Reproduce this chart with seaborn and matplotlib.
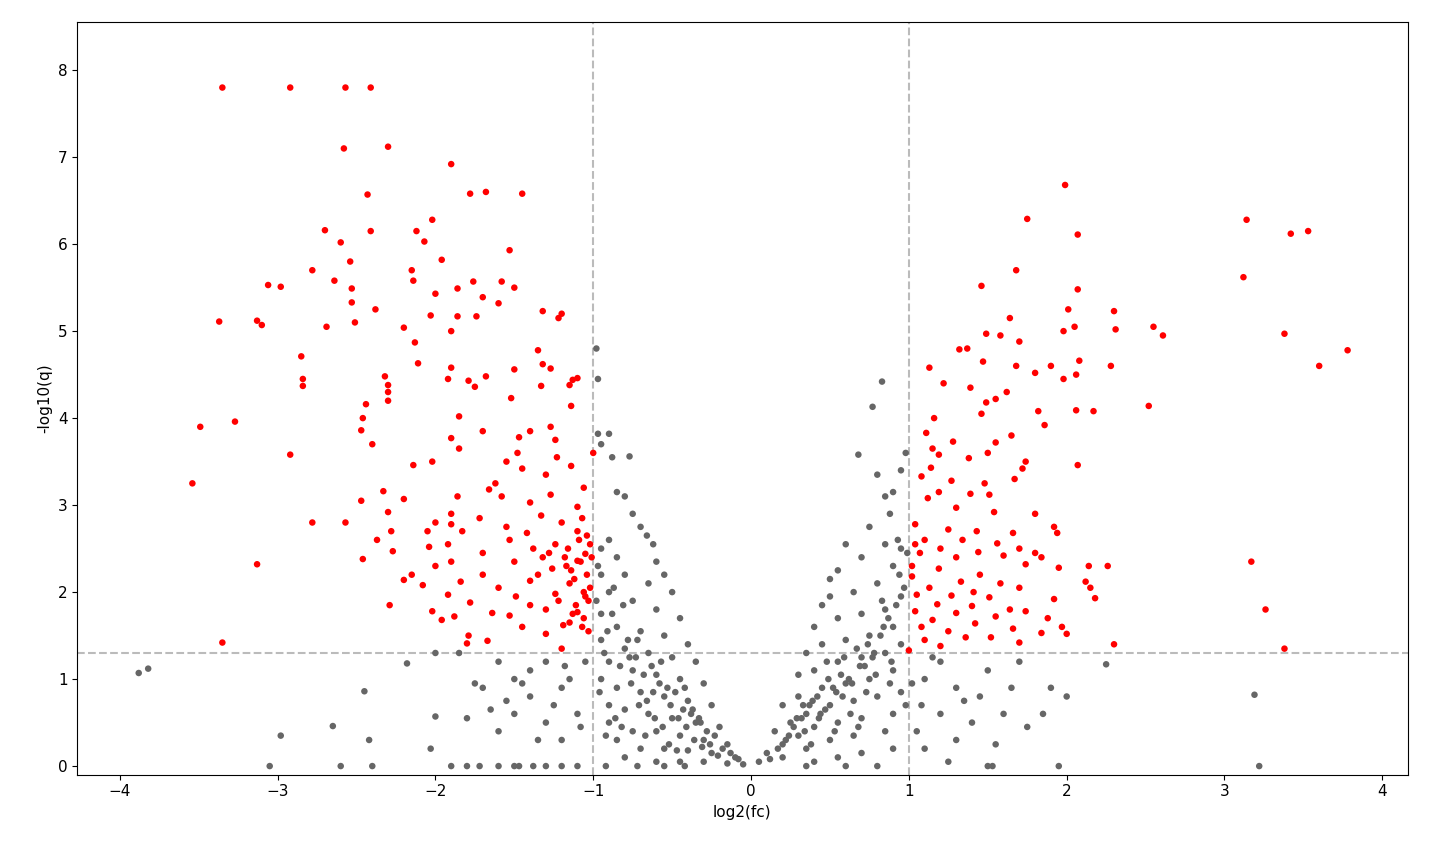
import pandas as pd
import matplotlib
matplotlib.use("Agg")
import matplotlib.pyplot as plt
import seaborn as sns

# significant points (red)
red_x = [-3.35,-2.92,-2.57,-2.41,-2.58,-2.3,-1.9,-1.68,-1.78,-1.45,-2.43,-2.02,-2.7,-2.41,-2.12,-2.07,-2.6,-1.53,-1.96,-2.54,-2.78,-2.15,-2.14,-2.64,-1.76,-1.58,-3.06,-2.98,-2.53,-1.86,-1.5,-2.0,-1.7,-2.53,-1.6,-2.38,-1.32,-1.2,-1.86,-3.37,-3.13,-2.51,-1.74,-1.9,-2.03,-3.1,-2.69,-2.2,-1.22,-2.13,-1.35,-2.85,-1.32,-2.11,-1.9,-1.5,-1.27,-2.32,-1.68,-1.1,-1.79,-1.13,-2.84,-2.84,-2.3,-1.33,-1.75,-2.3,-1.92,-1.15,-2.3,-2.44,-1.52,-1.14,-2.46,-1.85,-3.27,-2.47,-3.49,-1.7,-1.4,-1.27,-1.47,-1.9,-2.4,-1.24,-1.85,-1.0,-2.92,-1.48,-1.23,-1.55,-2.02,-2.14,-1.14,-1.45,-1.3,-1.62,-3.54,-1.66,-2.33,-1.06,-1.27,-1.86,-1.58,-2.2,-2.47,-1.4,-1.1,-1.9,-2.3,-1.72,-1.33,-2.0,-1.9,-2.78,-2.57,-1.55,-1.2,-2.05,-1.42,-2.28,-1.83,-1.1,-2.37,-1.53,-1.92,-1.24,-2.04,-1.38,-1.16,-2.27,-1.7,-1.05,-1.32,-2.46,-1.9,-2.0,-1.5,-1.1,-3.13,-1.26,-2.15,-1.7,-1.04,-2.2,-1.84,-1.4,-1.15,-2.08,-1.6,-1.06,-1.92,-1.49,-1.24,-1.03,-1.78,-1.4,-2.29,-1.3,-2.02,-1.64,-1.1,-1.88,-1.53,-1.96,-1.15,-1.45,-1.07,-1.79,-1.3,-1.67,-3.35,-1.8,-1.2,
         -1.02,-1.08,-1.12,-1.18,-1.05,-1.09,-1.14,-1.02,-1.06,-1.11,-1.17,-1.22,-1.28,-1.35,-1.03,-1.07,-1.13,-1.01,-1.04,-1.19,
         1.99,1.75,2.07,1.68,1.46,2.07,2.01,2.3,1.64,1.98,2.31,2.05,1.49,1.58,1.7,1.37,1.32,1.47,2.08,1.9,1.13,1.68,1.8,1.98,2.06,1.22,1.39,1.62,1.55,1.49,1.16,1.46,1.82,2.06,2.17,1.86,1.11,1.28,1.55,1.65,1.15,1.19,1.5,1.74,1.38,2.07,1.14,1.08,1.72,1.27,1.67,1.48,1.19,1.39,1.12,1.51,1.8,1.3,1.54,1.04,1.25,1.43,1.66,1.92,1.1,1.34,1.56,1.94,1.04,1.2,1.44,1.7,1.8,1.07,1.3,1.6,1.84,1.02,1.19,1.45,1.74,1.95,2.14,1.02,1.33,1.58,2.12,1.13,1.41,1.7,2.15,1.05,1.27,1.51,1.92,2.18,1.18,1.4,1.64,1.74,1.04,1.3,1.55,1.88,1.15,1.42,1.97,1.08,1.25,1.66,1.84,2.0,1.1,1.36,1.52,1.7,1.2,2.3,1.0,
         3.14,3.42,3.53,3.12,2.61,2.55,3.38,3.78,3.6,2.28,2.52,3.17,3.26,3.38,2.26]
red_y = [7.8,7.8,7.8,7.8,7.1,7.12,6.92,6.6,6.58,6.58,6.57,6.28,6.16,6.15,6.15,6.03,6.02,5.93,5.82,5.8,5.7,5.7,5.58,5.58,5.57,5.57,5.53,5.51,5.49,5.49,5.5,5.43,5.39,5.33,5.32,5.25,5.23,5.2,5.17,5.11,5.12,5.1,5.17,5.0,5.18,5.07,5.05,5.04,5.15,4.87,4.78,4.71,4.62,4.63,4.58,4.56,4.57,4.48,4.48,4.46,4.43,4.44,4.45,4.37,4.38,4.37,4.36,4.3,4.45,4.38,4.2,4.16,4.23,4.14,4.0,4.02,3.96,3.86,3.9,3.85,3.85,3.9,3.78,3.77,3.7,3.75,3.65,3.6,3.58,3.6,3.55,3.5,3.5,3.46,3.45,3.42,3.35,3.25,3.25,3.18,3.16,3.2,3.12,3.1,3.1,3.07,3.05,3.03,2.98,2.9,2.92,2.85,2.88,2.8,2.78,2.8,2.8,2.75,2.8,2.7,2.68,2.7,2.7,2.7,2.6,2.6,2.55,2.55,2.52,2.5,2.5,2.47,2.45,2.44,2.4,2.38,2.35,2.3,2.35,2.36,2.32,2.27,2.2,2.2,2.2,2.14,2.12,2.13,2.1,2.08,2.05,2.0,1.97,1.95,1.98,1.9,1.88,1.85,1.85,1.8,1.78,1.76,1.77,1.72,1.73,1.68,1.65,1.6,1.6,1.5,1.52,1.44,1.42,1.41,1.35,
         2.55,2.35,2.15,2.4,1.95,2.6,2.25,2.05,1.7,1.85,2.3,1.9,2.45,2.2,1.55,2.85,1.75,2.4,2.65,1.62,
         6.68,6.29,6.11,5.7,5.52,5.48,5.25,5.23,5.15,5.0,5.02,5.05,4.97,4.95,4.88,4.8,4.79,4.65,4.66,4.6,4.58,4.6,4.52,4.45,4.5,4.4,4.35,4.3,4.22,4.18,4.0,4.05,4.08,4.09,4.08,3.92,3.83,3.73,3.72,3.8,3.65,3.58,3.6,3.5,3.54,3.46,3.43,3.33,3.42,3.28,3.3,3.25,3.15,3.13,3.08,3.12,2.9,2.97,2.92,2.78,2.72,2.7,2.68,2.75,2.6,2.6,2.56,2.68,2.55,2.5,2.46,2.5,2.45,2.45,2.4,2.42,2.4,2.3,2.27,2.2,2.32,2.28,2.3,2.18,2.12,2.1,2.12,2.05,2.0,2.05,2.05,1.97,1.96,1.94,1.92,1.93,1.86,1.84,1.8,1.78,1.78,1.76,1.72,1.7,1.68,1.64,1.6,1.6,1.55,1.58,1.53,1.52,1.45,1.48,1.48,1.42,1.38,1.4,1.33,
         6.28,6.12,6.15,5.62,4.95,5.05,4.97,4.78,4.6,4.6,4.14,2.35,1.8,1.35,2.3]

# non-significant points (grey)
grey_x = [-3.88,-3.82,-2.98,-3.05,-2.65,-2.6,-2.45,-2.42,-2.4,-2.18,-2.0,-2.03,-2.0,-1.85,-1.8,-1.9,-1.8,-1.72,-1.6,-1.5,-1.47,-1.3,-1.38,-1.2,-1.1,3.19,3.22,2.25,1.95,1.5,1.53,0.8,
          -0.98,-0.97,-0.97,-0.9,-0.95,-0.88,-0.77,-0.85,-0.8,-0.75,-0.7,-0.66,-0.62,-0.9,-0.95,-0.85,-0.6,-0.55,-0.5,-0.65,-0.8,-0.95,-0.9,-0.75,-0.6,-0.45,-0.95,-0.85,-0.7,-0.55,-0.4,-0.95,-0.8,-0.65,-0.5,-0.35,-0.9,-0.75,-0.6,-0.45,-0.3,-0.95,-0.85,-0.7,-0.55,-0.4,-0.25,-0.9,-0.8,-0.65,-0.5,-0.35,-0.2,-0.9,-0.75,-0.6,-0.45,-0.3,-0.15,-0.85,-0.7,-0.55,-0.4,-0.25,-0.1,-0.8,-0.6,-0.45,-0.3,-0.15,-0.05,-0.92,-0.72,-0.55,-0.42,
          -0.98,-0.93,-0.88,-0.83,-0.78,-0.73,-0.68,-0.63,-0.58,-0.53,-0.48,-0.43,-0.38,-0.33,-0.28,-0.23,-0.18,-0.13,-0.08,
          -0.96,-0.91,-0.86,-0.81,-0.76,-0.71,-0.66,-0.61,-0.56,-0.51,-0.46,-0.41,-0.36,-0.31,-0.26,-0.21,
          -0.97,-0.92,-0.87,-0.82,-0.77,-0.72,-0.67,-0.62,-0.57,-0.52,-0.47,-0.42,-0.37,-0.32,
          -1.6,-1.5,-1.3,-1.4,-1.2,-1.1,-1.3,-1.5,-1.7,-1.6,-1.2,-1.05,-1.15,-1.35,-1.45,-1.75,-1.55,-1.25,-1.08,-1.4,-1.65,-1.18,
          0.83,0.77,0.68,0.8,0.9,0.85,0.95,0.98,0.88,0.75,0.6,0.85,0.95,0.7,0.55,0.5,0.9,0.8,0.65,0.5,0.45,0.95,0.85,0.7,0.55,0.4,0.9,0.75,0.6,0.45,0.35,0.95,0.85,0.7,0.55,0.4,0.3,0.9,0.75,0.6,0.45,0.3,0.2,0.95,0.8,0.65,0.5,0.35,0.25,0.15,0.9,0.7,0.55,0.4,0.3,0.2,0.1,0.85,0.65,0.5,0.35,0.2,0.05,0.9,0.7,0.55,0.4,0.6,0.35,
          0.12,0.17,0.22,0.27,0.32,0.37,0.42,0.47,0.52,0.57,0.62,0.67,0.72,0.77,0.82,0.87,0.92,0.97,
          0.24,0.29,0.34,0.39,0.44,0.49,0.54,0.59,0.64,0.69,0.74,0.79,0.84,0.89,0.94,0.99,
          0.33,0.38,0.43,0.48,0.53,0.58,0.63,0.68,0.73,0.78,0.83,0.88,0.93,0.98,
          1.2,1.1,1.3,1.5,1.7,1.9,1.6,1.4,1.2,1.05,1.3,1.55,1.75,1.85,2.0,1.1,1.45,1.65,1.25,1.02,1.08,1.15,1.35]
grey_y = [1.07,1.12,0.35,0.0,0.46,0.0,0.86,0.3,0.0,1.18,0.57,0.2,1.3,1.3,0.55,0.0,0.0,0.0,0.0,0.0,0.0,0.0,0.0,0.0,0.0,0.82,0.0,1.17,0.0,0.0,0.0,0.0,
          4.8,4.45,3.82,3.82,3.7,3.55,3.56,3.15,3.1,2.9,2.75,2.65,2.55,2.6,2.5,2.4,2.35,2.2,2.0,2.1,2.2,2.2,2.0,1.9,1.8,1.7,1.75,1.6,1.55,1.5,1.4,1.45,1.35,1.3,1.25,1.2,1.2,1.1,1.05,1.0,0.95,1.0,0.9,0.85,0.8,0.75,0.7,0.7,0.65,0.6,0.55,0.5,0.45,0.5,0.4,0.4,0.35,0.3,0.25,0.3,0.2,0.2,0.18,0.15,0.1,0.1,0.05,0.05,0.05,0.03,0.02,0.0,0.0,0.0,0.0,
          1.9,1.3,1.75,1.15,1.45,1.25,1.05,1.15,0.95,0.9,0.85,0.65,0.6,0.55,0.4,0.35,0.2,0.15,0.08,
          0.85,1.55,0.55,1.85,0.95,0.7,0.75,0.55,0.45,0.7,0.55,0.45,0.3,0.22,0.25,0.12,
          2.3,0.35,2.05,0.45,1.25,1.45,0.35,0.85,1.2,0.25,0.18,0.9,0.65,0.5,
          1.2,1.0,1.2,0.8,0.9,0.6,0.5,0.6,0.9,0.4,0.3,1.2,1.0,0.3,0.95,0.95,0.75,0.7,0.45,1.1,0.65,1.15,
          4.42,4.13,3.58,3.35,3.15,3.1,3.4,3.6,2.9,2.75,2.55,2.55,2.5,2.4,2.25,2.15,2.3,2.1,2.0,1.95,1.85,1.95,1.8,1.75,1.7,1.6,1.6,1.5,1.45,1.4,1.3,1.4,1.3,1.25,1.2,1.1,1.05,1.1,1.0,0.95,0.9,0.8,0.7,0.85,0.8,0.75,0.7,0.6,0.5,0.4,0.6,0.55,0.5,0.45,0.35,0.25,0.15,0.4,0.35,0.3,0.2,0.1,0.05,0.2,0.15,0.1,0.05,0.0,0.0,
          0.08,0.2,0.3,0.45,0.55,0.7,0.8,0.65,0.9,1.05,1.0,1.35,1.15,1.25,1.5,1.7,1.85,2.05,
          0.35,0.55,0.4,0.75,0.6,1.0,0.85,1.25,0.95,1.15,1.4,1.05,1.6,1.2,2.2,2.45,
          0.7,0.25,0.55,1.2,0.4,0.8,0.6,0.45,0.85,1.3,1.9,0.95,2.6,0.7,
          1.2,1.0,0.9,1.1,1.2,0.9,0.6,0.5,0.6,0.4,0.3,0.25,0.45,0.6,0.8,0.2,0.8,0.9,0.05,0.95,0.7,1.25,0.75]

df = pd.concat([
    pd.DataFrame({"log2(fc)": grey_x, "-log10(q)": grey_y, "sig": "no"}),
    pd.DataFrame({"log2(fc)": red_x, "-log10(q)": red_y, "sig": "yes"}),
])

fig, ax = plt.subplots(figsize=(14.29, 8.58), dpi=100)
sns.scatterplot(data=df, x="log2(fc)", y="-log10(q)", hue="sig",
                palette={"no": "#666666", "yes": "red"}, s=22, linewidth=0,
                legend=False, ax=ax)
for v in (-1, 1):
    ax.axvline(v, color="#bbbbbb", ls="--", lw=1.5, zorder=0)
ax.axhline(1.3, color="#bbbbbb", ls="--", lw=1.5, zorder=0)
ax.set_xlim(-4.27, 4.16)
ax.set_ylim(-0.1, 8.55)
ax.set_xticks(range(-4, 5))
ax.set_yticks(range(0, 9))
ax.tick_params(labelsize=11)
ax.set_xlabel("log2(fc)", fontsize=11)
ax.set_ylabel("-log10(q)", fontsize=11)
plt.subplots_adjust(left=0.054, right=0.985, top=0.974, bottom=0.097)
fig.savefig("out.png", dpi=100)
